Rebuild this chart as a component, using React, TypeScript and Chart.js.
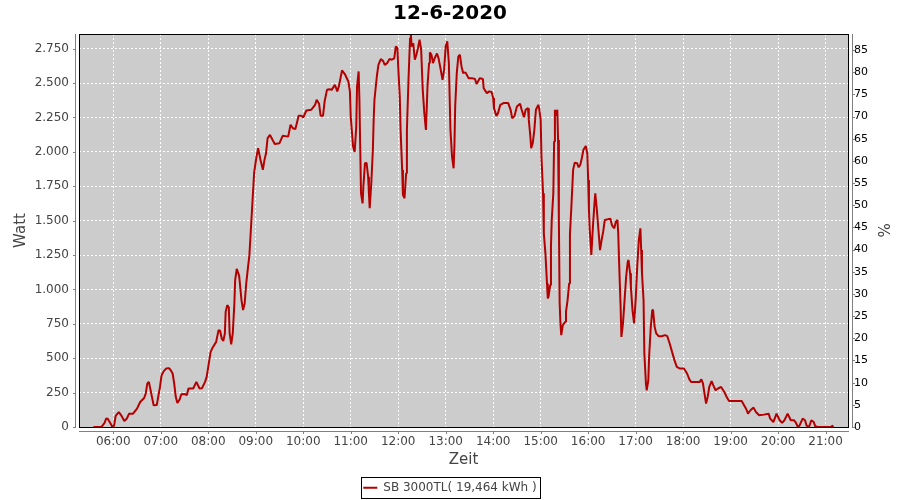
import React, { useEffect, useRef } from "react";
import { Chart, registerables } from "chart.js";

Chart.register(...registerables);

const chartTitle = "12-6-2020";
const seriesLabel = "SB 3000TL( 19,464 kWh )";
const yTitle = "Watt";
const y2Title = "%";
const xTitle = "Zeit";

// sample times (HH:MM) and power in Watt
const times: string[] = [
  "05:35","05:45","05:49","05:51","05:53","05:56","05:59","06:01","06:03","06:07",
  "06:10","06:14","06:17","06:20","06:25","06:30","06:34","06:39","06:41","06:43",
  "06:45","06:48","06:51","06:55","06:56","06:59","07:01","07:04","07:07","07:10",
  "07:12","07:15","07:17","07:19","07:21","07:24","07:26","07:30","07:33","07:35",
  "07:41","07:45","07:49","07:52","07:56","07:58","08:00","08:03","08:06","08:10",
  "08:13","08:15","08:17","08:19","08:21","08:22","08:24","08:26","08:27","08:29",
  "08:31","08:33","08:34","08:36","08:39","08:42","08:44","08:46","08:48","08:50",
  "08:52","08:54","08:56","08:58","09:00","09:01","09:03","09:04","09:06","09:09",
  "09:11","09:13","09:15","09:18","09:21","09:24","09:30","09:34","09:41","09:44",
  "09:47","09:50","09:53","09:54","09:58","10:00","10:04","10:10","10:15","10:17",
  "10:20","10:22","10:25","10:27","10:30","10:33","10:36","10:40","10:43","10:45",
  "10:49","10:53","10:57","10:59","11:00","11:02","11:03","11:05","11:07","11:08",
  "11:10","11:11","11:12","11:13","11:15","11:16","11:18","11:20","11:22","11:23",
  "11:24","11:26","11:28","11:29","11:30","11:33","11:35","11:38","11:41","11:43",
  "11:46","11:49","11:52","11:55","11:57","11:59","12:00","12:02","12:03","12:05",
  "12:06","12:08","12:10","12:11","12:13","12:15","12:16","12:17","12:19","12:21",
  "12:23","12:25","12:27","12:29","12:31","12:33","12:35","12:36","12:37","12:39",
  "12:40","12:42","12:44","12:46","12:49","12:51","12:53","12:56","12:58","13:00",
  "13:02","13:04","13:05","13:06","13:08","13:10","13:11","13:12","13:14","13:16",
  "13:18","13:20","13:22","13:25","13:29","13:33","13:37","13:39","13:42","13:43",
  "13:47","13:48","13:52","13:55","13:58","14:00","14:01","14:04","14:06","14:09",
  "14:13","14:19","14:22","14:24","14:27","14:30","14:34","14:36","14:39","14:41",
  "14:44","14:45","14:47","14:48","14:50","14:52","14:54","14:57","14:58","15:00",
  "15:01","15:03","15:04","15:06","15:08","15:09","15:10","15:12","15:13","15:14",
  "15:16","15:17","15:18","15:19","15:21","15:22","15:23","15:24","15:25","15:26",
  "15:28","15:31","15:32","15:34","15:36","15:37","15:39","15:41","15:43","15:46",
  "15:48","15:50","15:52","15:54","15:57","15:59","16:00","16:01","16:02","16:04",
  "16:06","16:08","16:09","16:11","16:13","16:15","16:17","16:19","16:21","16:25",
  "16:28","16:30","16:33","16:35","16:37","16:38","16:39","16:41","16:42","16:44",
  "16:46","16:48","16:50","16:51","16:53","16:54","16:56","16:58","17:00","17:02",
  "17:04","17:06","17:07","17:08","17:10","17:11","17:13","17:14","17:16","17:17",
  "17:19","17:21","17:22","17:24","17:26","17:29","17:33","17:37","17:40","17:43",
  "17:46","17:49","17:52","17:56","18:01","18:05","18:08","18:10","18:21","18:23",
  "18:25","18:27","18:29","18:31","18:33","18:36","18:38","18:41","18:44","18:48",
  "18:52","18:55","18:58","19:14","19:17","19:20","19:22","19:25","19:29","19:32",
  "19:36","19:42","19:48","19:50","19:54","19:58","20:02","20:05","20:08","20:12",
  "20:16","20:20","20:22","20:25","20:27","20:31","20:34","20:36","20:39","20:42",
  "20:45","20:47","20:50","21:07","21:08","21:10"
];

const watts: number[] = [
  0,0,30,61,60,30,0,10,80,109,
  85,44,60,97,97,134,182,211,243,316,
  328,243,158,160,194,291,376,408,425,428,
  418,389,316,218,175,202,238,240,232,280,
  280,328,280,282,328,364,437,546,582,619,
  704,700,643,625,680,837,886,870,682,600,
  682,898,1068,1150,1100,922,850,898,1044,1150,
  1250,1450,1650,1850,1930,1966,2027,2027,1942,1870,
  1940,1990,2100,2124,2090,2058,2063,2117,2111,2197,
  2172,2165,2233,2262,2262,2250,2301,2306,2342,2379,
  2350,2262,2262,2366,2451,2455,2451,2488,2440,2476,
  2592,2561,2512,2439,2257,2111,2039,2000,2184,2476,
  2585,2379,2039,1699,1626,1747,1918,1920,1820,1699,
  1590,1772,2015,2233,2379,2548,2633,2675,2660,2633,
  2645,2675,2670,2680,2767,2755,2621,2403,2160,1869,
  1687,1663,1845,2160,2524,2828,2852,2767,2790,2670,
  2706,2755,2815,2743,2451,2282,2160,2306,2476,2646,
  2723,2706,2645,2680,2715,2680,2621,2524,2596,2767,
  2803,2646,2403,2160,1966,1881,2039,2330,2573,2694,
  2706,2621,2573,2578,2536,2536,2530,2493,2524,2536,
  2530,2463,2427,2440,2435,2391,2318,2262,2280,2342,
  2355,2355,2306,2245,2262,2330,2350,2306,2252,2306,
  2318,2233,2111,2027,2063,2160,2306,2342,2318,2233,
  1966,1700,1408,1262,1044,935,950,1032,1310,1505,
  1700,2075,2306,2262,2306,2087,1500,898,753,668,
  740,765,837,922,1044,1400,1626,1869,1922,1918,
  1888,1905,1954,2015,2043,1985,1796,1578,1432,1250,
  1456,1626,1699,1578,1432,1286,1359,1420,1505,1510,
  1515,1468,1444,1493,1505,1408,1214,874,655,753,
  922,1092,1201,1214,1117,1019,850,753,922,1165,
  1359,1444,1286,1117,922,534,316,267,340,510,
  716,850,850,728,680,660,660,668,660,607,
  546,486,437,425,425,389,345,328,328,347,
  318,243,170,218,291,333,304,267,280,291,
  255,218,189,189,158,127,97,122,141,109,
  85,90,97,61,36,97,49,30,49,97,
  49,49,36,0,10,61,49,10,0,49,
  36,5,0,0,10,0
];

// axis ticks
const hourTicks: number[] = [6, 7, 8, 9, 10, 11, 12, 13, 14, 15, 16, 17, 18, 19, 20, 21];
const wattTicks: number[] = [0, 250, 500, 750, 1000, 1250, 1500, 1750, 2000, 2250, 2500, 2750];
const pctTicks: number[] = [0, 5, 10, 15, 20, 25, 30, 35, 40, 45, 50, 55, 60, 65, 70, 75, 80, 85];

const FONT = "'DejaVu Sans', sans-serif";
const LINE_COLOR = "#b40000";

const toMinutes = (s: string) => {
  const [h, m] = s.split(":").map(Number);
  return h * 60 + m;
};

const fmtTime = (v: number) => {
  const h = Math.floor(v / 60);
  const m = Math.round(v % 60);
  return `${String(h).padStart(2, "0")}:${String(m).padStart(2, "0")}`;
};

const fmtWatt = (v: number) => {
  if (v >= 1000) {
    const k = Math.floor(v / 1000);
    return `${k}.${String(Math.round(v - k * 1000)).padStart(3, "0")}`;
  }
  return String(v);
};

const decorPlugin = {
  id: "decor",
  beforeDraw(chart: any) {
    const { ctx, chartArea: a } = chart;
    ctx.save();
    ctx.fillStyle = "#cccccc";
    ctx.fillRect(a.left, a.top, a.right - a.left, a.bottom - a.top);
    ctx.restore();
  },
  afterDraw(chart: any) {
    const { ctx, chartArea: a, scales } = chart;
    ctx.save();
    // plot border
    ctx.strokeStyle = "#000";
    ctx.lineWidth = 1;
    ctx.strokeRect(a.left + 0.5, a.top + 0.5, a.right - a.left, a.bottom - a.top);

    // offset axis lines + tick marks
    ctx.strokeStyle = "#808080";
    ctx.beginPath();
    const lx = Math.round(a.left) - 3.5;
    ctx.moveTo(lx, a.top);
    ctx.lineTo(lx, a.bottom + 1);
    for (const t of scales.y.ticks) {
      const py = Math.round(scales.y.getPixelForValue(t.value)) + 0.5;
      ctx.moveTo(lx - 2.5, py);
      ctx.lineTo(lx, py);
    }
    const rx = Math.round(a.right) + 4.5;
    ctx.moveTo(rx, a.top);
    ctx.lineTo(rx, a.bottom + 1);
    for (const t of scales.y2.ticks) {
      const py = Math.round(scales.y2.getPixelForValue(t.value)) + 0.5;
      ctx.moveTo(rx, py);
      ctx.lineTo(rx + 2.5, py);
    }
    const by = Math.round(a.bottom) + 4.5;
    ctx.moveTo(a.left, by);
    ctx.lineTo(a.right + 1, by);
    for (const t of scales.x.ticks) {
      const px = Math.round(scales.x.getPixelForValue(t.value)) + 0.5;
      ctx.moveTo(px, by);
      ctx.lineTo(px, by + 2.5);
    }
    ctx.stroke();

    // legend frame
    const legend = chart.legend;
    if (legend && legend.legendHitBoxes && legend.legendHitBoxes.length) {
      const hb = legend.legendHitBoxes[0];
      const cy = hb.top + hb.height / 2;
      const x0 = Math.round(hb.left - 2) + 0.5;
      const x1 = Math.round(hb.left + hb.width + 3) + 0.5;
      const y0 = Math.round(cy - 10.5) + 0.5;
      const y1 = Math.round(cy + 10.5) + 0.5;
      ctx.strokeStyle = "#000";
      ctx.strokeRect(x0, y0, x1 - x0, y1 - y0);
    }
    ctx.restore();
  },
};

export default function App() {
  const ref = useRef<HTMLCanvasElement>(null);

  useEffect(() => {
    const points = times.map((t, i) => ({ x: toMinutes(t), y: watts[i] }));
    const chart = new Chart(ref.current as HTMLCanvasElement, {
      type: "line",
      data: {
        datasets: [
          {
            label: seriesLabel,
            data: points,
            borderColor: LINE_COLOR,
            backgroundColor: LINE_COLOR,
            borderWidth: 2,
            pointRadius: 0,
            tension: 0,
            fill: false,
            borderJoinStyle: "bevel",
            yAxisID: "y",
          } as any,
        ],
      },
      options: {
        animation: false,
        responsive: false,
        devicePixelRatio: 1,
        events: [],
        layout: { padding: { left: 0, right: 0, top: 0, bottom: -3.7 } },
        plugins: {
          title: {
            display: true,
            text: chartTitle,
            color: "#000",
            font: { family: FONT, size: 20, weight: "bold" },
            padding: { top: 1.5, bottom: 8.5 },
          },
          legend: {
            display: true,
            position: "bottom",
            labels: {
              usePointStyle: true,
              pointStyle: "line",
              pointStyleWidth: 14,
              padding: 5,
              color: "#444444",
              font: { family: FONT, size: 12 },
            },
          },
          tooltip: { enabled: false },
        },
        scales: {
          x: {
            type: "linear",
            min: 316.7,
            max: 1288.3,
            afterBuildTicks: (s: any) => {
              s.ticks = hourTicks.map((h) => ({ value: h * 60 }));
            },
            afterFit: (s: any) => {
              s.height = 49.7;
            },
            ticks: {
              autoSkip: false,
              maxRotation: 0,
              padding: 7.5,
              color: "#444444",
              font: { family: FONT, size: 12 },
              callback: (v: any) => fmtTime(Number(v)),
            },
            grid: { color: "#ffffff", lineWidth: 1, drawTicks: false },
            border: { display: false, dash: [2, 2] },
            title: {
              display: true,
              text: xTitle,
              color: "#444444",
              font: { family: FONT, size: 15 },
              padding: { top: 0, bottom: 7.2 },
            },
          },
          y: {
            type: "linear",
            position: "left",
            min: 0,
            max: 2857,
            afterBuildTicks: (s: any) => {
              s.ticks = wattTicks.map((v) => ({ value: v }));
            },
            afterFit: (s: any) => {
              s.width = 79;
            },
            ticks: {
              padding: 10,
              color: "#444444",
              font: { family: FONT, size: 12 },
              callback: (v: any) => fmtWatt(Number(v)),
            },
            grid: { color: "#ffffff", lineWidth: 1, drawTicks: false },
            border: { display: false, dash: [2, 2] },
            title: {
              display: true,
              text: yTitle,
              color: "#444444",
              font: { family: FONT, size: 15 },
              padding: { top: 12.5, bottom: 0 },
            },
          },
          y2: {
            type: "linear",
            position: "right",
            min: 0,
            max: 88.6,
            afterBuildTicks: (s: any) => {
              s.ticks = pctTicks.map((v) => ({ value: v }));
            },
            afterFit: (s: any) => {
              s.width = 52;
            },
            ticks: {
              padding: 6,
              color: "#000000",
              font: { family: FONT, size: 11 },
              callback: (v: any) => String(v),
            },
            grid: { display: false, drawTicks: false },
            border: { display: false },
            title: {
              display: true,
              text: y2Title,
              color: "#444444",
              font: { family: FONT, size: 15 },
              padding: { top: 9, bottom: 0 },
            },
          },
        },
      } as any,
      plugins: [decorPlugin],
    });
    return () => chart.destroy();
  }, []);

  return (
    <div style={{ position: "absolute", left: 0, top: 0, width: 900, height: 500, background: "#fff" }}>
      <canvas ref={ref} width={900} height={500} style={{ display: "block", width: 900, height: 500 }} />
    </div>
  );
}
